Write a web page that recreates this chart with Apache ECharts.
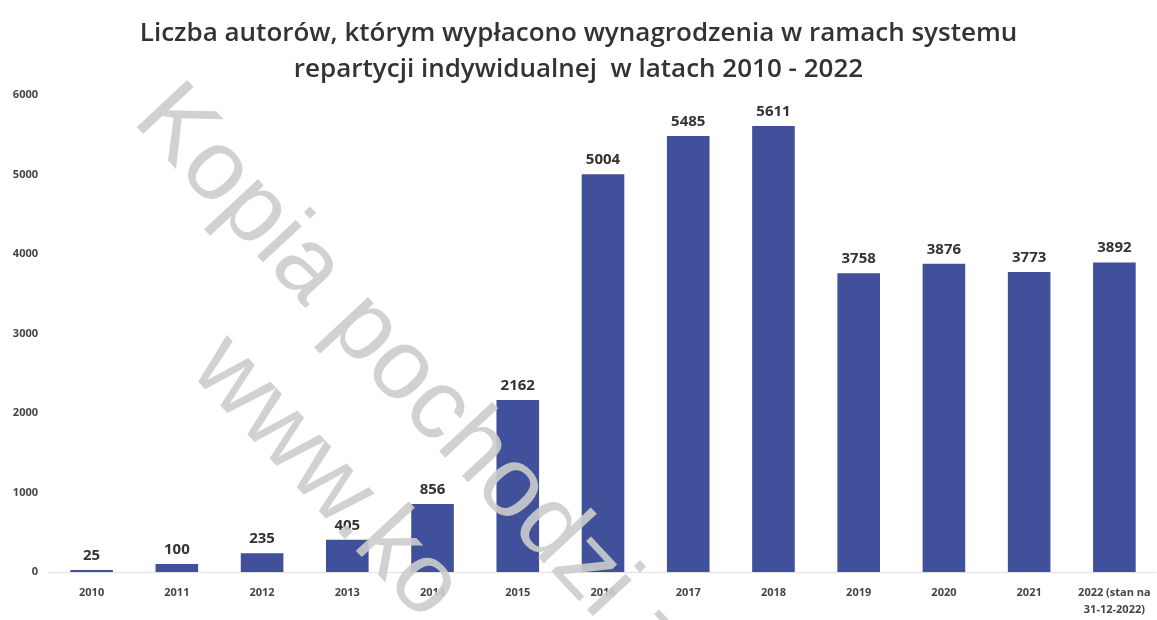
<!DOCTYPE html>
<html lang="pl">
<head>
<meta charset="UTF-8">
<title>Liczba autorów</title>
<script src="https://cdn.jsdelivr.net/npm/echarts@6/dist/echarts.min.js"></script>
<style>
  html, body { margin: 0; padding: 0; background: #fff; }
  #chart { width: 1157px; height: 620px; }
</style>
</head>
<body>
<div id="chart"></div>
<script>
  // dane z wykresu
  var lata = ['2010', '2011', '2012', '2013', '2014', '2015', '2016', '2017', '2018', '2019', '2020', '2021', '2022 (stan na\n31-12-2022)'];
  var autorzy = [25, 100, 235, 405, 856, 2162, 5004, 5485, 5611, 3758, 3876, 3773, 3892];
  var osY = [0, 1000, 2000, 3000, 4000, 5000, 6000];

  var font = '"Open Sans", Lato, sans-serif';
  var chart = echarts.init(document.getElementById('chart'));

  chart.setOption({
    backgroundColor: '#fff',
    animation: false,
    title: {
      text: 'Liczba autorów, którym wypłacono wynagrodzenia w ramach systemu\nrepartycji indywidualnej  w latach 2010 - 2022',
      left: 'center',
      top: 11,
      textStyle: { fontFamily: font, fontSize: 26, fontWeight: 600, color: '#333', lineHeight: 36 }
    },
    grid: { left: 49, right: 0, top: 95, bottom: 48 },
    xAxis: {
      type: 'category',
      data: lata,
      axisLine: { lineStyle: { color: '#d9d9d9', type: 'dotted' } },
      axisTick: { show: false },
      axisLabel: { fontFamily: font, fontSize: 11, fontWeight: 'bold', color: '#444', margin: 12, lineHeight: 17, interval: 0 }
    },
    yAxis: {
      type: 'value',
      min: osY[0],
      max: osY[osY.length - 1],
      interval: 1000,
      splitLine: { show: false },
      axisLine: { show: false },
      axisLabel: { fontFamily: font, fontSize: 11, fontWeight: 'bold', color: '#444', margin: 11, formatter: function (v) { return String(v); } }
    },
    series: [{
      type: 'bar',
      data: autorzy,
      barWidth: '50%',
      itemStyle: { color: '#41509a' },
      label: {
        show: true,
        position: 'top',
        distance: 7,
        fontFamily: font,
        fontSize: 15,
        fontWeight: 'bold',
        color: '#333'
      }
    }],
    graphic: [
      {
        type: 'text',
        x: 188, y: 68,
        rotation: -47 * Math.PI / 180,
        z: 100,
        style: { text: 'Kopia pochodzi z', font: '100px "Liberation Sans", sans-serif', fill: '#cccccc', opacity: 0.9 }
      },
      {
        type: 'text',
        x: 245, y: 318,
        rotation: -47 * Math.PI / 180,
        z: 100,
        style: { text: 'www.ko', font: '100px "Liberation Sans", sans-serif', fill: '#cccccc', opacity: 0.9 }
      }
    ]
  });
</script>
</body>
</html>
